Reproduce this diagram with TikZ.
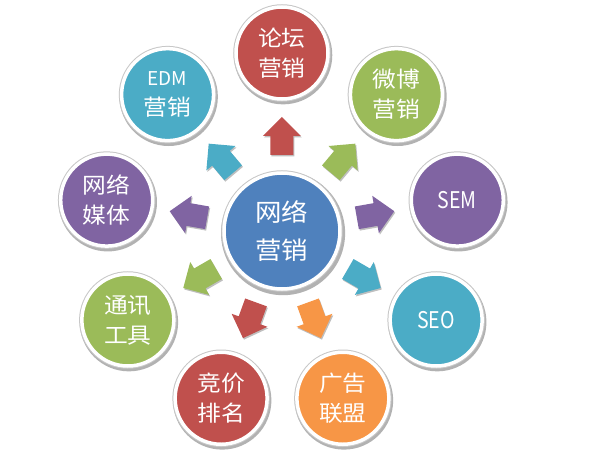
\documentclass[tikz,border=0pt]{standalone}
\usepackage{fontspec}
\setmainfont{Noto Sans CJK SC}[FakeStretch=1.08]
\newfontfamily\latcond{Noto Sans CJK SC}[FakeStretch=0.85]
\newfontfamily\latnorm{Noto Sans CJK SC}
\usetikzlibrary{shadows}
\definecolor{cblue}{HTML}{4F81BD}
\definecolor{cred}{HTML}{C0504D}
\definecolor{cgreen}{HTML}{9BBB59}
\definecolor{cpurple}{HTML}{8064A2}
\definecolor{cteal}{HTML}{4BACC6}
\definecolor{corange}{HTML}{F79646}
\begin{document}
\begin{tikzpicture}[x=1pt,y=1pt,
  bubble/.style={circle, fill=#1, minimum size=92pt, inner sep=0pt, text=white, align=center,
     drop shadow={shadow xshift=1pt, shadow yshift=-2pt, shadow scale=1.07, opacity=0.3, fill=black},
     preaction={draw=black!22, line width=5.5pt},
     draw=white, line width=3.5pt,
     font=\fontsize{22}{30}\selectfont},
  hub/.style={bubble=#1, minimum size=116pt, font=\fontsize{24.5}{38}\selectfont},
  latin/.style={font=\latcond\fontsize{23}{23}\selectfont},
  blockarrow/.style={fill=#1, drop shadow={shadow xshift=1pt, shadow yshift=-1.5pt, opacity=0.25, fill=black}}
]
\useasboundingbox[fill=white] (-282,-219) rectangle (318,231);

\node[hub=cblue] (hub) at (0,0) {网络\\营销};
\node[bubble=cred] (luntan) at (90:178) {论坛\\营销};
\node[bubble=cgreen] (weibo) at (50:178) {微博\\营销};
\node[bubble=cpurple, latin] (sem) at (10:178) {SEM};
\node[bubble=cteal, latin] (seo) at (-30:178) {SEO};
\node[bubble=corange] (guanggao) at (-70:178) {广告\\联盟};
\node[bubble=cred] (jingjia) at (-110:178) {竞价\\排名};
\node[bubble=cgreen] (tongxun) at (-150:178) {通讯\\工具};
\node[bubble=cpurple] (meiti) at (170:178) {网络\\媒体};
\node[bubble=cteal] (edm) at (130:178) {{\latnorm\fontsize{19}{19}\selectfont EDM}\\营销};

\foreach \a/\c in {90/cred, 50/cgreen, 10/cpurple, -30/cteal, -70/corange,
                   -110/cred, -150/cgreen, 170/cpurple, 130/cteal} {
  \begin{scope}[shift={(\a:95)}, rotate=\a]
    \path[blockarrow=\c] (-19,-11.5) -- (0,-11.5) -- (0,-19) -- (19,0)
         -- (0,19) -- (0,11.5) -- (-19,11.5) -- cycle;
  \end{scope}
}
\end{tikzpicture}
\end{document}
